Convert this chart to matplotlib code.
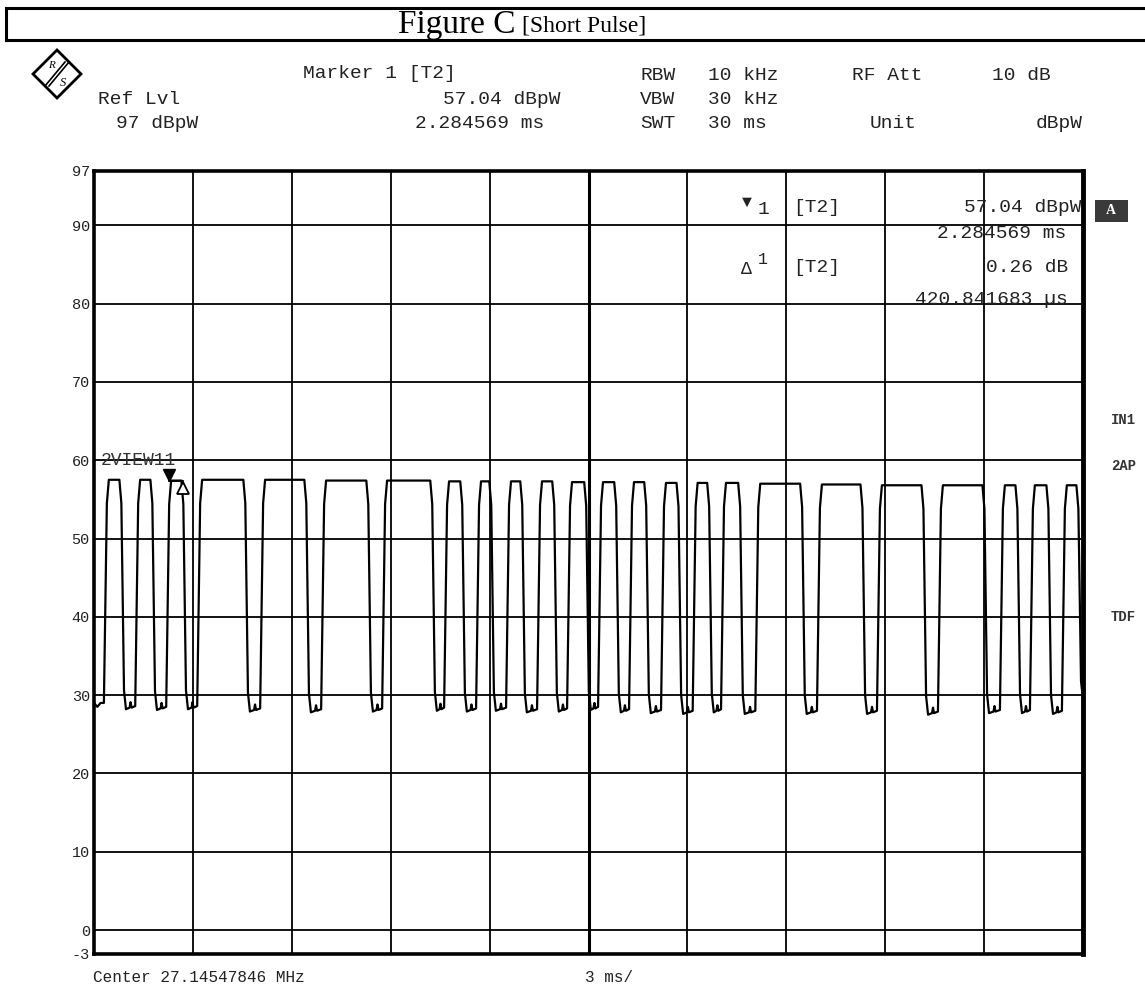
import matplotlib as mpl

mpl.use("Agg")
import matplotlib.pyplot as plt
from matplotlib.patches import Polygon, Rectangle
from matplotlib.lines import Line2D
import numpy as np

W, H = 1145, 990

# pulse tops: (start, end) in ms
pulse_tops = [
    (0.42, 0.79), (1.37, 1.73), (2.31, 2.67), (3.25, 4.55), (5.16, 6.40),
    (7.01, 8.28), (8.86, 10.22), (10.74, 11.13), (11.71, 12.01), (12.62, 12.95),
    (13.56, 13.92), (14.47, 14.89), (15.41, 15.80), (16.35, 16.71), (17.32, 17.69),
    (18.28, 18.62), (19.14, 19.56), (20.18, 21.44), (22.05, 23.27), (23.87, 25.12),
    (25.72, 26.97), (27.60, 27.97), (28.51, 28.91), (29.48, 29.82),
]
# level of each pulse top (dBpW)
pulse_high = [
    57.5, 57.5, 57.4, 57.5, 57.5, 57.4, 57.4, 57.3, 57.3, 57.3, 57.3, 57.2,
    57.2, 57.2, 57.1, 57.1, 57.1, 57.0, 56.9, 56.8, 56.8, 56.8, 56.8, 56.8,
]
# floor level between pulses (dBpW), one more than the pulses
gap_low = [
    29.0, 28.6, 28.5, 28.6, 28.3, 28.2, 28.3, 28.4, 28.3, 28.4, 28.2, 28.3, 28.5,
    28.2, 28.1, 28.0, 28.2, 28.0, 28.0, 28.0, 27.9, 28.1, 28.1, 28.0, 29.8,
]

marker_t = 2.284569
marker_lvl = 57.04
delta_t = 0.420841683
y_ticks = [-3, 0, 10, 20, 30, 40, 50, 60, 70, 80, 90, 97]


def build_trace():
    t, y = [0.0, 0.1, 0.2], [gap_low[0], gap_low[0] - 0.5, gap_low[0]]
    for i, ((ts, te), h) in enumerate(zip(pulse_tops, pulse_high)):
        lo = gap_low[i]
        lo2 = gap_low[i + 1]
        t += [ts - 0.12, ts - 0.03, ts + 0.03, te - 0.02, te + 0.04, te + 0.12, te + 0.18]
        y += [lo, h - 3.0, h, h, h - 3.0, lo2 + 2.0, lo2 - 0.4]
        if i + 1 < len(pulse_tops):
            nxt = pulse_tops[i + 1][0] - 0.12
            mid = (te + 0.18 + nxt) / 2
            t += [mid - 0.03, mid, mid + 0.03]
            y += [lo2 - 0.2, lo2 + 0.5, lo2 - 0.2]
    return np.array(t), np.array(y)


def fx(px):
    return px / W


def fy(py):
    return 1 - py / H


fig = plt.figure(figsize=(W / 100, H / 100), dpi=100)
fig.patch.set_facecolor("white")

ax = fig.add_axes([94 / W, (H - 953.5) / H, 989 / W, 783 / H])
ax.set_xlim(0, 30)
ax.set_ylim(-3, 97)
ax.set_xticks(np.arange(0, 31, 3))
ax.set_xticklabels([])
ax.set_yticks(y_ticks)
ax.set_yticklabels([str(v) for v in y_ticks], family="Liberation Mono", fontsize=11, color="#222222")
ax.tick_params(length=0, pad=3)
ax.grid(True, color="black", lw=1.3)
ax.axvline(15, color="black", lw=2.2)
for s in ax.spines.values():
    s.set_linewidth(2.6)
ax.spines["right"].set_linewidth(3.5)

tt, yy = build_trace()
ax.plot(tt, yy, color="black", lw=1.6, clip_on=True)

# markers
ax.plot([marker_t], [marker_lvl + 1.1], marker="v", color="black", ms=9, clip_on=False)
ax.plot([marker_t, marker_t + delta_t], [pulse_high[2], pulse_high[2]], color="black", lw=1.3)
ax.plot([marker_t + delta_t], [pulse_high[2] - 0.9], marker="^", mfc="white", mec="black",
        mew=1.3, ms=9)
ax.text(0.2, 60.0, "2VIEW11", family="Liberation Mono", fontsize=13, va="center",
        ha="left", color="#333333")

# marker table inside the plot
mono = dict(family="Liberation Mono", color="#222222")
ax.text(19.95, 93.0, "\u25bc", fontsize=12, ha="right", va="center", **mono)
ax.text(20.3, 92.0, "1", fontsize=14, ha="center", va="center", **mono)
ax.text(21.2, 92.3, "[T2]", fontsize=14, ha="left", va="center", **mono)
ax.text(29.95, 92.3, "57.04 dBpW", fontsize=14, ha="right", va="center", **mono)
ax.text(29.5, 89.0, "2.284569 ms", fontsize=14, ha="right", va="center", **mono)
ax.text(19.8, 84.4, "\u0394", fontsize=13, ha="center", va="center", **mono)
ax.text(20.3, 85.6, "1", fontsize=12, ha="center", va="center", **mono)
ax.text(21.2, 84.6, "[T2]", fontsize=14, ha="left", va="center", **mono)
ax.text(29.55, 84.6, "0.26 dB", fontsize=14, ha="right", va="center", **mono)
ax.text(29.55, 80.5, "420.841683 \u00b5s", fontsize=14, ha="right", va="center", **mono)

# header
hdr = dict(family="Liberation Mono", fontsize=14, color="#222222", va="center", ha="left")
fig.text(fx(303), fy(74), "Marker 1 [T2]", **hdr)
fig.text(fx(640), fy(76), "RBW", **hdr)
fig.text(fx(708), fy(76), "10 kHz", **hdr)
fig.text(fx(852), fy(76), "RF Att", **hdr)
fig.text(fx(992), fy(76), "10 dB", **hdr)
fig.text(fx(98), fy(100), "Ref Lvl", **hdr)
fig.text(fx(443), fy(100), "57.04 dBpW", **hdr)
fig.text(fx(640), fy(100), "VBW", **hdr)
fig.text(fx(708), fy(100), "30 kHz", **hdr)
fig.text(fx(116), fy(124), "97 dBpW", **hdr)
fig.text(fx(415), fy(124), "2.284569 ms", **hdr)
fig.text(fx(640), fy(124), "SWT", **hdr)
fig.text(fx(708), fy(124), "30 ms", **hdr)
fig.text(fx(870), fy(124), "Unit", **hdr)
fig.text(fx(1036), fy(124), "dBpW", **hdr)

# footer
ftr = dict(hdr, fontsize=11.5)
fig.text(fx(93), fy(977), "Center 27.14547846 MHz", **ftr)
fig.text(fx(585), fy(977), "3 ms/", **ftr)

# right side labels
side = dict(family="Liberation Mono", fontsize=10, weight="bold", color="#333333",
            va="center", ha="left")
fig.text(fx(1111), fy(420), "IN1", **side)
fig.text(fx(1111), fy(466), "2AP", **side)
fig.text(fx(1111), fy(617), "TDF", **side)
fig.patches.append(Rectangle((fx(1095), fy(222)), 33 / W, 22 / H, transform=fig.transFigure,
                             facecolor="#3a3a3a", edgecolor="none"))
fig.text(fx(1111), fy(211), "A", family="Liberation Serif", fontsize=10, weight="bold",
         color="white", ha="center", va="center")

# R&S logo
cx, cy, r = 57, 74, 24
fig.patches.append(Polygon([(fx(cx - r), fy(cy)), (fx(cx), fy(cy - r)), (fx(cx + r), fy(cy)),
                            (fx(cx), fy(cy + r))], closed=True, transform=fig.transFigure,
                           facecolor="white", edgecolor="black", lw=2.0))
for off in (-2, 2):
    fig.lines.append(Line2D([fx(cx - 10 + off), fx(cx + 10 + off)], [fy(cy + 12), fy(cy - 12)],
                            transform=fig.transFigure, color="black", lw=1.2))
fig.text(fx(cx - 6), fy(cy - 9), "R", family="Liberation Serif", fontsize=8, ha="center",
         va="center", style="italic")
fig.text(fx(cx + 6), fy(cy + 9), "S", family="Liberation Serif", fontsize=9, ha="center",
         va="center", style="italic")

# title box
for yline in (8, 40):
    fig.lines.append(Line2D([fx(6), 1.0], [fy(yline), fy(yline)], transform=fig.transFigure,
                            color="black", lw=2.2))
fig.lines.append(Line2D([fx(6), fx(6)], [fy(8), fy(40)], transform=fig.transFigure,
                        color="black", lw=2.2))
fig.text(fx(516), fy(25), "Figure C", family="Liberation Serif", fontsize=24, ha="right",
         va="center")
fig.text(fx(522), fy(26), "[Short Pulse]", family="Liberation Serif", fontsize=17, ha="left",
         va="center")

plt.savefig("out.png", dpi=100)
plt.close()
